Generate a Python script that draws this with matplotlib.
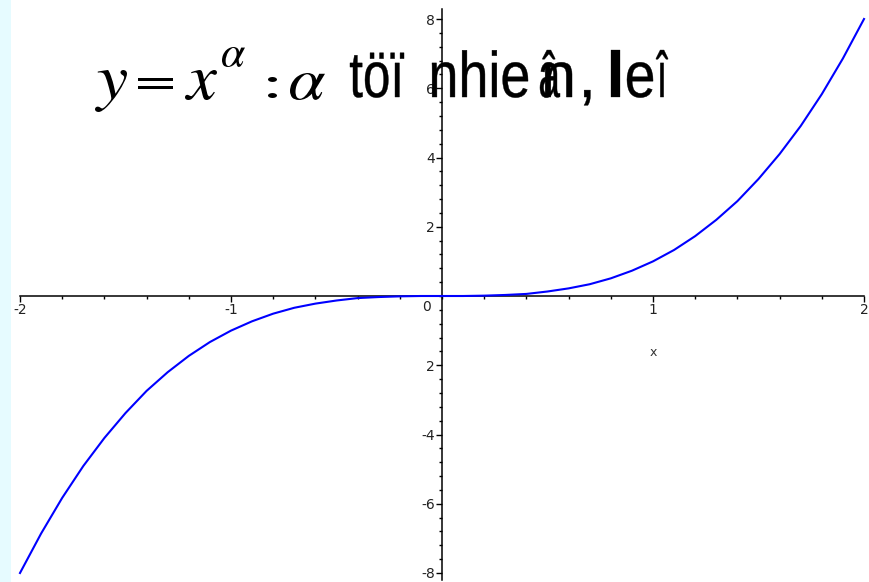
import matplotlib
matplotlib.use("Agg")
import matplotlib.pyplot as plt
from matplotlib.ticker import MultipleLocator, FixedLocator
from matplotlib.patches import Rectangle, PathPatch
from matplotlib.textpath import TextPath
from matplotlib.font_manager import FontProperties
from matplotlib.transforms import Affine2D

# Sampled points of the curve y = x^alpha (alpha = 3)
x_vals = [-2.0, -1.9, -1.8, -1.7, -1.6, -1.5, -1.4, -1.3, -1.2, -1.1, -1.0,
          -0.9, -0.8, -0.7, -0.6, -0.5, -0.4, -0.3, -0.2, -0.1, 0.0,
          0.1, 0.2, 0.3, 0.4, 0.5, 0.6, 0.7, 0.8, 0.9, 1.0,
          1.1, 1.2, 1.3, 1.4, 1.5, 1.6, 1.7, 1.8, 1.9, 2.0]
y_vals = [-8.00, -6.86, -5.83, -4.91, -4.10, -3.38, -2.74, -2.20, -1.73, -1.33, -1.00,
          -0.73, -0.51, -0.34, -0.22, -0.13, -0.06, -0.03, -0.01, 0.00, 0.00,
          0.00, 0.01, 0.03, 0.06, 0.13, 0.22, 0.34, 0.51, 0.73, 1.00,
          1.33, 1.73, 2.20, 2.74, 3.38, 4.10, 4.91, 5.83, 6.86, 8.00]

x_ticks = [-2, -1, 1, 2]
x_tick_labels = ["-2", "-1", "1", "2"]
y_ticks = [-8, -6, -4, -2, 2, 4, 6, 8]
y_tick_labels = ["-8", "-6", "-4", "2", "2", "4", "6", "8"]

W, H = 870, 582
fig = plt.figure(figsize=(W / 100, H / 100), dpi=100)
fig.patch.set_facecolor("white")

# light cyan strip on the left edge
fig.patches.append(Rectangle((0, 0), 11 / W, 1, transform=fig.transFigure,
                             facecolor="#e6fbff", edgecolor="none", zorder=0))

ax = fig.add_axes([20 / W, 9 / H, 844 / W, 554 / H])
ax.set_xlim(-2, 2)
ax.set_ylim(-8, 8)
ax.patch.set_alpha(0)

for side in ("top", "right"):
    ax.spines[side].set_visible(False)
ax.spines["left"].set_position(("data", 0))
ax.spines["bottom"].set_position(("data", 0))
for side in ("left", "bottom"):
    ax.spines[side].set_linewidth(1.1)
    ax.spines[side].set_color("black")
ax.spines["left"].set_bounds(-8.2, 8.3)

ax.xaxis.set_major_locator(FixedLocator(x_ticks))
ax.set_xticklabels(x_tick_labels)
ax.xaxis.set_minor_locator(MultipleLocator(0.2))
ax.yaxis.set_major_locator(FixedLocator(y_ticks))
ax.set_yticklabels(y_tick_labels)
ax.yaxis.set_minor_locator(MultipleLocator(0.4))
ax.tick_params(which="major", direction="out", length=4, width=1, color="black",
               labelsize=10, labelcolor="#222222", pad=1)
ax.tick_params(which="minor", direction="out", length=2, width=1, color="black")

ax.plot(x_vals, y_vals, color="#0000ff", linewidth=1.5, zorder=5, clip_on=False)

ax.text(-0.055, -0.12, "0", ha="right", va="top", fontsize=10, color="#222222")
ax.text(1.0, -1.62, "x", ha="center", va="center", fontsize=9, color="#333333")

# ---- heading, drawn as glyph outlines placed in pixel boxes ----
sans = FontProperties(family="Liberation Sans")
mathp = FontProperties(family="DejaVu Sans")
mathp.set_math_fontfamily("stix")


def _add(tp, sx, sy, tx, ty, edge=0.0):
    tr = Affine2D().scale(sx / W, sy / H).translate(tx / W, ty / H) + fig.transFigure
    fig.patches.append(PathPatch(tp, transform=tr, facecolor="black",
                                 edgecolor="black", linewidth=edge, zorder=6))


def glyph_box(s, prop, x0, x1, ytop, ybot):
    """Stretch the ink of s into the box x0..x1, ytop..ybot (pixels from top)."""
    tp = TextPath((0, 0), s, size=100, prop=prop)
    ext = tp.get_extents()
    sx = (x1 - x0) / ext.width
    sy = (ybot - ytop) / ext.height
    _add(tp, sx, sy, x0 - ext.x0 * sx, (H - ytop) - ext.y1 * sy)


def word(s, prop, x0, x1, baseline, em, edge=0.3):
    """Set s on a baseline with a given em size, squeezed to span x0..x1."""
    tp = TextPath((0, 0), s, size=100, prop=prop)
    ext = tp.get_extents()
    sy = em / 100.0
    sx = sy if x1 is None else (x1 - x0) / ext.width
    _add(tp, sx, sy, x0 - ext.x0 * sx, H - baseline, edge)


glyph_box(r"$y$", mathp, 95, 127, 70, 112)
glyph_box(r"$=$", mathp, 138, 173, 78, 89)
glyph_box(r"$x$", mathp, 185, 217, 70, 100)
glyph_box(r"$\alpha$", mathp, 222, 245, 47, 67)
glyph_box(r"$:$", mathp, 268, 277, 77, 98)
glyph_box(r"$\alpha$", mathp, 290, 325, 73, 100)

EM = 64.5
BASE = 97
word("töï", sans, 350, 404, BASE, EM)
word("nhie", sans, 432, 528, BASE, EM)
word("â", sans, 540, 560, BASE, EM)
word("n", sans, 545, 572, BASE, EM)
word(",", sans, 584, None, BASE, EM)
word("l", sans, 611, 620, BASE, EM, edge=0.2)
word("e", sans, 627, 653, BASE, EM)
word("î", sans, 656, 668, BASE, EM)

fig.savefig("out.png", dpi=100)
